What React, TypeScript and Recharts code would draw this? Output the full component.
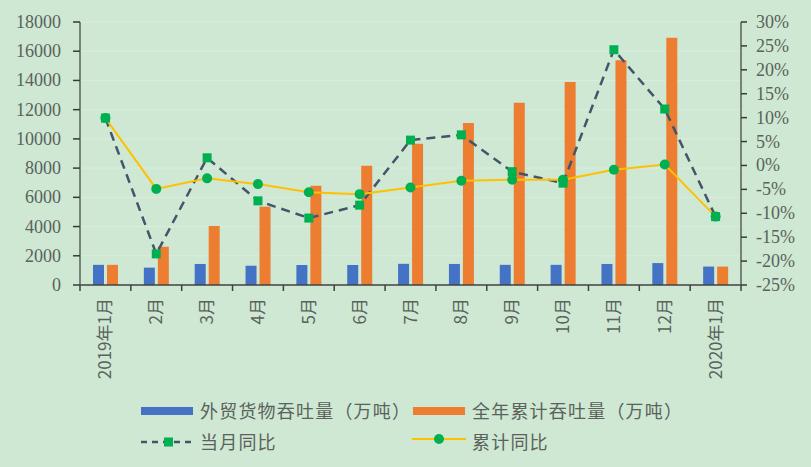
import React from 'react';
import { ComposedChart, Bar, Line, XAxis, YAxis, CartesianGrid } from 'recharts';

const categories = ['2019年1月', '2月', '3月', '4月', '5月', '6月', '7月', '8月', '9月', '10月', '11月', '12月', '2020年1月'];
const foreignTrade = [1380, 1190, 1440, 1320, 1370, 1370, 1450, 1440, 1380, 1380, 1440, 1500, 1260];
const cumulative = [1380, 2620, 4040, 5360, 6790, 8160, 9660, 11080, 12470, 13900, 15390, 16920, 1260];
const monthlyYoY = [9.9, -18.5, 1.6, -7.4, -11.0, -8.3, 5.3, 6.4, -1.3, -3.7, 24.2, 11.8, -10.7];
const cumulativeYoY = [9.9, -4.9, -2.7, -3.9, -5.6, -6.0, -4.6, -3.2, -3.0, -3.0, -0.9, 0.2, -10.7];
const leftTicks = [0, 2000, 4000, 6000, 8000, 10000, 12000, 14000, 16000, 18000];
const rightTicks = [-25, -20, -15, -10, -5, 0, 5, 10, 15, 20, 25, 30];

const data = categories.map((c, i) => ({
  name: c,
  ft: foreignTrade[i],
  cum: cumulative[i],
  m: monthlyYoY[i],
  c: cumulativeYoY[i],
}));

const W = 811;
const H = 467;
const TOP = 22;
const LEFT_W = 80;
const RIGHT_W = 70;
const X_H = 182;
const PLOT_BOTTOM = H - X_H;
const BAND = (W - LEFT_W - RIGHT_W) / categories.length;
const BG = '#cee8d3';
const AXIS = '#5a625c';
const SERIF = "'Liberation Serif', 'DejaVu Serif', serif";

const XTick = (props: any) => {
  const { x, payload, index } = props;
  const last = index === categories.length - 1;
  return (
    <g>
      <line x1={x - BAND / 2} y1={PLOT_BOTTOM} x2={x - BAND / 2} y2={PLOT_BOTTOM + 6} stroke="#404040" strokeWidth={1.5} />
      {last && <line x1={x + BAND / 2} y1={PLOT_BOTTOM} x2={x + BAND / 2} y2={PLOT_BOTTOM + 6} stroke="#404040" strokeWidth={1.5} />}
      <text
        transform={`translate(${x + 6},${PLOT_BOTTOM + 13}) rotate(-90)`}
        textAnchor="end"
        fontSize={17}
        fill={AXIS}
        fontFamily="'Noto Sans CJK SC', 'DejaVu Sans', sans-serif"
      >
        {payload.value}
      </text>
    </g>
  );
};

const LeftTick = (props: any) => {
  const { y, payload } = props;
  return (
    <text x={LEFT_W - 19} y={y} dy={6} textAnchor="end" fontSize={18} fill={AXIS} fontFamily={SERIF}>
      {payload.value}
    </text>
  );
};

const RightTick = (props: any) => {
  const { y, payload } = props;
  return (
    <text x={W - RIGHT_W + 15} y={y} dy={6} textAnchor="start" fontSize={18} fill={AXIS} fontFamily={SERIF}>
      {`${payload.value}%`}
    </text>
  );
};

const SquareDot = (props: any) => {
  const { cx, cy, index } = props;
  if (cx == null || cy == null) return <g key={index} />;
  return <rect key={index} x={cx - 4.5} y={cy - 4.5} width={9} height={9} fill="#00b050" />;
};

const CircleDot = (props: any) => {
  const { cx, cy, index } = props;
  if (cx == null || cy == null) return <g key={index} />;
  return <circle key={index} cx={cx} cy={cy} r={5} fill="#00b050" />;
};

const legendText: React.CSSProperties = {
  position: 'absolute',
  fontSize: 18,
  color: '#5a625c',
  fontFamily: "'Noto Sans CJK SC', sans-serif",
  lineHeight: '20px',
  letterSpacing: '1.2px',
  whiteSpace: 'nowrap',
};

export default function App() {
  return (
    <div style={{ position: 'absolute', left: 0, top: 0, width: W, height: H, background: BG, overflow: 'hidden' }}>
      <ComposedChart
        width={W}
        height={H}
        data={data}
        margin={{ top: TOP, right: 0, left: 0, bottom: 0 }}
        barSize={11}
        barGap={3}
      >
        <CartesianGrid vertical={false} stroke="#dcecde" strokeWidth={1} yAxisId="left" />
        <XAxis
          dataKey="name"
          height={X_H}
          interval={0}
          tickLine={false}
          axisLine={{ stroke: '#404040', strokeWidth: 1.5 }}
          tick={<XTick />}
        />
        <YAxis
          yAxisId="left"
          width={LEFT_W}
          domain={[0, 18000]}
          ticks={leftTicks}
          interval={0}
          axisLine={{ stroke: '#5a625c', strokeWidth: 1.5 }}
          tickLine={{ stroke: '#3a3a3a', strokeWidth: 1.5 }}
          tickSize={7}
          tick={<LeftTick />}
        />
        <YAxis
          yAxisId="right"
          orientation="right"
          width={RIGHT_W}
          domain={[-25, 30]}
          ticks={rightTicks}
          interval={0}
          axisLine={{ stroke: '#5a625c', strokeWidth: 1.5 }}
          tickLine={{ stroke: '#3a3a3a', strokeWidth: 1.5 }}
          tickSize={6}
          tick={<RightTick />}
        />
        <Bar yAxisId="left" dataKey="ft" fill="#4472c4" isAnimationActive={false} />
        <Bar yAxisId="left" dataKey="cum" fill="#ed7d31" isAnimationActive={false} />
        <Line
          yAxisId="right"
          dataKey="m"
          type="linear"
          stroke="#44546a"
          strokeWidth={2.5}
          strokeDasharray="9 6"
          dot={<SquareDot />}
          activeDot={false}
          isAnimationActive={false}
        />
        <Line
          yAxisId="right"
          dataKey="c"
          type="linear"
          stroke="#ffc000"
          strokeWidth={2}
          dot={<CircleDot />}
          activeDot={false}
          isAnimationActive={false}
        />
      </ComposedChart>

      <div style={{ position: 'absolute', left: 141, top: 407, width: 52, height: 8, background: '#4472c4' }} />
      <div style={{ ...legendText, left: 200, top: 400 }}>外贸货物吞吐量（万吨）</div>
      <div style={{ position: 'absolute', left: 413, top: 407, width: 52, height: 8, background: '#ed7d31' }} />
      <div style={{ ...legendText, left: 472, top: 400 }}>全年累计吞吐量（万吨）</div>

      <svg style={{ position: 'absolute', left: 130, top: 430 }} width={80} height={24}>
        <line x1={11} y1={12} x2={63} y2={12} stroke="#44546a" strokeWidth={2.5} strokeDasharray="6 5" />
        <rect x={34} y={7.5} width={9} height={9} fill="#00b050" />
      </svg>
      <div style={{ ...legendText, left: 200, top: 431 }}>当月同比</div>
      <svg style={{ position: 'absolute', left: 405, top: 427 }} width={80} height={24}>
        <line x1={7} y1={12} x2={61} y2={12} stroke="#ffc000" strokeWidth={2} />
        <circle cx={34} cy={12} r={5} fill="#00b050" />
      </svg>
      <div style={{ ...legendText, left: 472, top: 431 }}>累计同比</div>
    </div>
  );
}
